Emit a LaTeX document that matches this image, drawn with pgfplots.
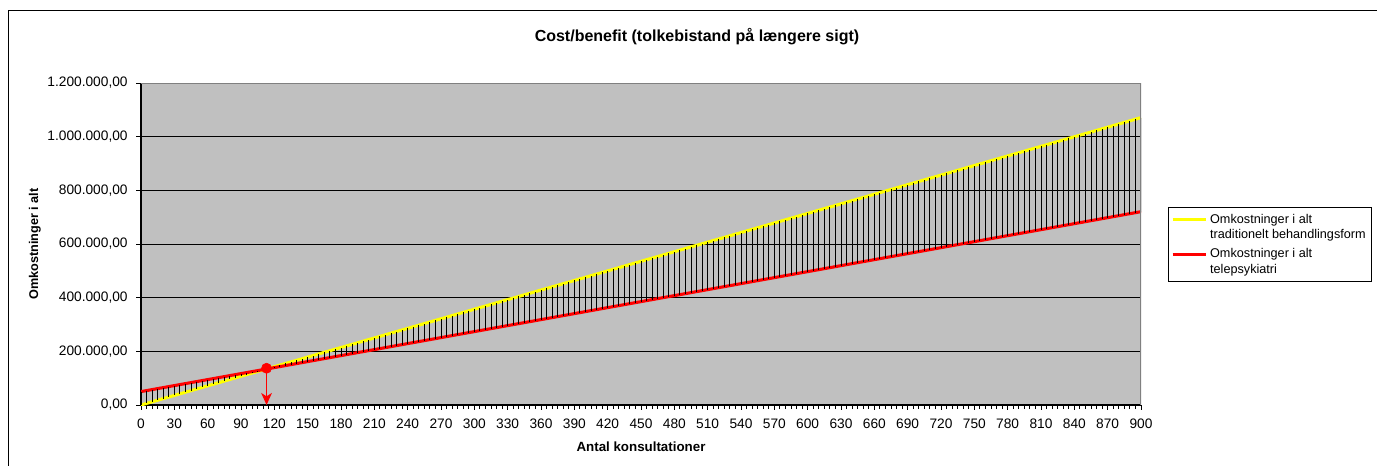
\documentclass[border=0pt]{standalone}
\usepackage{fontspec}
\setmainfont{Liberation Sans}
\usepackage{pgfplots}
\usepackage{pgfplotstable}
\pgfplotsset{compat=1.18}
\usetikzlibrary{arrows.meta}
\definecolor{plotbg}{HTML}{C0C0C0}
\definecolor{bordergray}{HTML}{808080}
\definecolor{xlyellow}{HTML}{FFFF00}
\definecolor{xlred}{HTML}{FF0000}

\pgfplotstableread{
x y r
0 0 50000
5 5950 53725
10 11900 57450
15 17850 61175
20 23800 64900
25 29750 68625
30 35700 72350
35 41650 76075
40 47600 79800
45 53550 83525
50 59500 87250
55 65450 90975
60 71400 94700
65 77350 98425
70 83300 102150
75 89250 105875
80 95200 109600
85 101150 113325
90 107100 117050
95 113050 120775
100 119000 124500
105 124950 128225
110 130900 131950
115 136850 135675
120 142800 139400
125 148750 143125
130 154700 146850
135 160650 150575
140 166600 154300
145 172550 158025
150 178500 161750
155 184450 165475
160 190400 169200
165 196350 172925
170 202300 176650
175 208250 180375
180 214200 184100
185 220150 187825
190 226100 191550
195 232050 195275
200 238000 199000
205 243950 202725
210 249900 206450
215 255850 210175
220 261800 213900
225 267750 217625
230 273700 221350
235 279650 225075
240 285600 228800
245 291550 232525
250 297500 236250
255 303450 239975
260 309400 243700
265 315350 247425
270 321300 251150
275 327250 254875
280 333200 258600
285 339150 262325
290 345100 266050
295 351050 269775
300 357000 273500
305 362950 277225
310 368900 280950
315 374850 284675
320 380800 288400
325 386750 292125
330 392700 295850
335 398650 299575
340 404600 303300
345 410550 307025
350 416500 310750
355 422450 314475
360 428400 318200
365 434350 321925
370 440300 325650
375 446250 329375
380 452200 333100
385 458150 336825
390 464100 340550
395 470050 344275
400 476000 348000
405 481950 351725
410 487900 355450
415 493850 359175
420 499800 362900
425 505750 366625
430 511700 370350
435 517650 374075
440 523600 377800
445 529550 381525
450 535500 385250
455 541450 388975
460 547400 392700
465 553350 396425
470 559300 400150
475 565250 403875
480 571200 407600
485 577150 411325
490 583100 415050
495 589050 418775
500 595000 422500
505 600950 426225
510 606900 429950
515 612850 433675
520 618800 437400
525 624750 441125
530 630700 444850
535 636650 448575
540 642600 452300
545 648550 456025
550 654500 459750
555 660450 463475
560 666400 467200
565 672350 470925
570 678300 474650
575 684250 478375
580 690200 482100
585 696150 485825
590 702100 489550
595 708050 493275
600 714000 497000
605 719950 500725
610 725900 504450
615 731850 508175
620 737800 511900
625 743750 515625
630 749700 519350
635 755650 523075
640 761600 526800
645 767550 530525
650 773500 534250
655 779450 537975
660 785400 541700
665 791350 545425
670 797300 549150
675 803250 552875
680 809200 556600
685 815150 560325
690 821100 564050
695 827050 567775
700 833000 571500
705 838950 575225
710 844900 578950
715 850850 582675
720 856800 586400
725 862750 590125
730 868700 593850
735 874650 597575
740 880600 601300
745 886550 605025
750 892500 608750
755 898450 612475
760 904400 616200
765 910350 619925
770 916300 623650
775 922250 627375
780 928200 631100
785 934150 634825
790 940100 638550
795 946050 642275
800 952000 646000
805 957950 649725
810 963900 653450
815 969850 657175
820 975800 660900
825 981750 664625
830 987700 668350
835 993650 672075
840 999600 675800
845 1005550 679525
850 1011500 683250
855 1017450 686975
860 1023400 690700
865 1029350 694425
870 1035300 698150
875 1041250 701875
880 1047200 705600
885 1053150 709325
890 1059100 713050
895 1065050 716775
900 1071000 720500
}\datatable

\begin{document}
\begin{tikzpicture}
\useasboundingbox (0pt,0pt) rectangle (1032.75pt,348.75pt);
% outer chart frame (left and top edges visible)
\draw[black, line width=0.8pt] (6.4pt,-2pt) -- (6.4pt,340.9pt) -- (1040pt,340.9pt);
\begin{axis}[
  at={(105.75pt,45pt)}, anchor=south west,
  width=750pt, height=241.5pt, scale only axis,
  xmin=0, xmax=900, ymin=0, ymax=1200000,
  enlargelimits=false,
  axis background/.style={fill=plotbg},
  axis x line*=bottom, axis y line*=left,
  axis line style={-, black, line width=1pt},
  xtick={0,30,...,900}, minor x tick num=5,
  ytick={0,200000,...,1200000},
  tick align=outside,
  major tick length=3.5pt, minor tick length=3pt,
  every tick/.style={black, line width=0.7pt},
  ymajorgrids, major grid style={black, line width=0.7pt},
  scaled y ticks=false,
  /pgf/number format/assume math mode=true,
  tick label style={font=\fontsize{10.3}{12}\selectfont},
  yticklabel style={xshift=-3pt, /pgf/number format/.cd, fixed, fixed zerofill, precision=2, use comma, 1000 sep={.}},
  xticklabel style={yshift=-3.5pt, /pgf/number format/.cd, fixed, precision=0, 1000 sep={}},
  title={Cost/benefit (tolkebistand på længere sigt)},
  title style={at={(axis description cs:0.556,1.118)}, anchor=center, font=\bfseries\fontsize{12}{14}\selectfont},
  xlabel={Antal konsultationer},
  xlabel style={at={(axis description cs:0.5,-0.130)}, anchor=center, font=\bfseries\fontsize{10}{12}\selectfont},
  ylabel={Omkostninger i alt},
  ylabel style={at={(axis description cs:-0.106,0.5)}, anchor=center, font=\bfseries\fontsize{9.5}{12}\selectfont},
  legend style={at={(axis description cs:1.027,0.615)}, anchor=north west, draw=black, line width=0.6pt,
    font=\fontsize{9.5}{11.5}\selectfont, cells={anchor=west, align=left}, inner xsep=2pt, inner ysep=3pt, row sep=2pt},
  legend image code/.code={\draw[#1] (0pt,5.5pt) -- (25pt,5.5pt); \path (0pt,-5.5pt);},
  clip=true,
]
\addplot[xlyellow, line width=2.3pt, mark=none] table[x=x, y=y] {\datatable};
\addlegendentry{Omkostninger i alt\\traditionelt behandlingsform}
\addplot[xlred, line width=2.3pt, mark=none] table[x=x, y=r] {\datatable};
\addlegendentry{Omkostninger i alt\\telepsykiatri}
\addplot[forget plot, draw=none, no markers,
  error bars/.cd, y dir=plus, y explicit, error mark=none,
  error bar style={draw=black, line width=0.6pt}]
  table[x=x, y=r, y error expr=\thisrow{y}-\thisrow{r}] {\datatable};
\addplot[forget plot, xlred, line width=1.1pt, mark=none, -{Stealth[length=9pt, width=8pt, inset=2.5pt]}] coordinates {(113,137000) (113,0)};
\addplot[forget plot, only marks, mark=*, mark size=3.8pt, xlred] coordinates {(113,137000)};
\draw[bordergray, line width=1.1pt] (rel axis cs:0,1) -- (rel axis cs:1,1) -- (rel axis cs:1,0);
\end{axis}
\end{tikzpicture}
\end{document}
